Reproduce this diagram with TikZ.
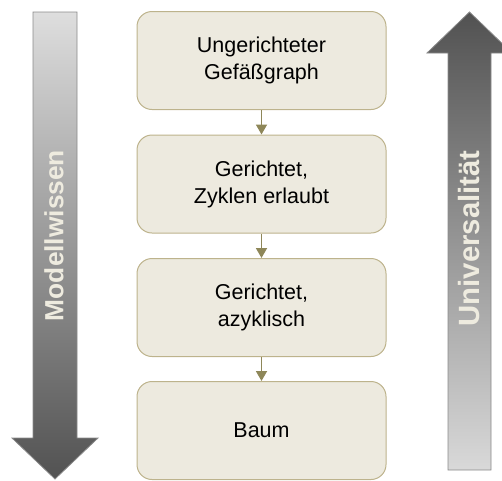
\documentclass[tikz,border=0pt]{standalone}
\usepackage{fontspec}
\setmainfont{Liberation Sans}
\usetikzlibrary{arrows.meta}

\definecolor{boxfill}{HTML}{EDEADF}
\definecolor{boxline}{HTML}{BDB38C}
\definecolor{linkcol}{HTML}{8E8759}
\definecolor{labeltext}{HTML}{EEEBDF}
\definecolor{shaftedge}{HTML}{8A8A8A}

\begin{document}
\begin{tikzpicture}[x=1pt,y=-1pt,
  level/.style={draw=boxline, line width=1pt, fill=boxfill, rounded corners=15pt,
    minimum width=249pt, minimum height=98pt, align=center, inner sep=0pt,
    font=\fontsize{21.5}{27}\selectfont},
  link/.style={draw=linkcol, line width=1.8pt, -{Triangle[width=11pt,length=10pt]}},
  axislabel/.style={rotate=90, text=labeltext, inner sep=0pt}]
\useasboundingbox (0,0) rectangle (502,480);

% knowledge axis: pointing down, dark towards the head
\shade[top color=black!13, middle color=black!57, bottom color=black!68,
       draw=shaftedge, line width=0.8pt]
  (33,12) -- (77,12) -- (77,438) -- (98,438) -- (55,479) -- (12,438) -- (33,438) -- cycle;
\node[axislabel, font=\fontsize{26.3}{30}\bfseries] (knowledge) at (54,235.5) {Modellwissen};

% generality axis: pointing up, dark towards the head
\shade[top color=black!68, middle color=black!57, bottom color=black!15,
       draw=shaftedge, line width=0.8pt]
  (448,470) -- (448,53) -- (427,53) -- (469.5,12) -- (512,53) -- (491,53) -- (491,470) -- cycle;
\node[axislabel, font=\fontsize{29.3}{34}\bfseries] (generality) at (469,238.5) {Universalität};

% hierarchy of graph models
\node[level] (undirected) at (261.5,60.5) {Ungerichteter\\Gefäßgraph};
\node[level] (cyclic)     at (261.5,184)  {Gerichtet,\\Zyklen erlaubt};
\node[level] (acyclic)    at (261.5,307.5){Gerichtet,\\azyklisch};
\node[level] (tree)       at (261.5,430.5){Baum};

\draw[link] (undirected) -- (cyclic);
\draw[link] (cyclic) -- (acyclic);
\draw[link] (acyclic) -- (tree);
\end{tikzpicture}
\end{document}
